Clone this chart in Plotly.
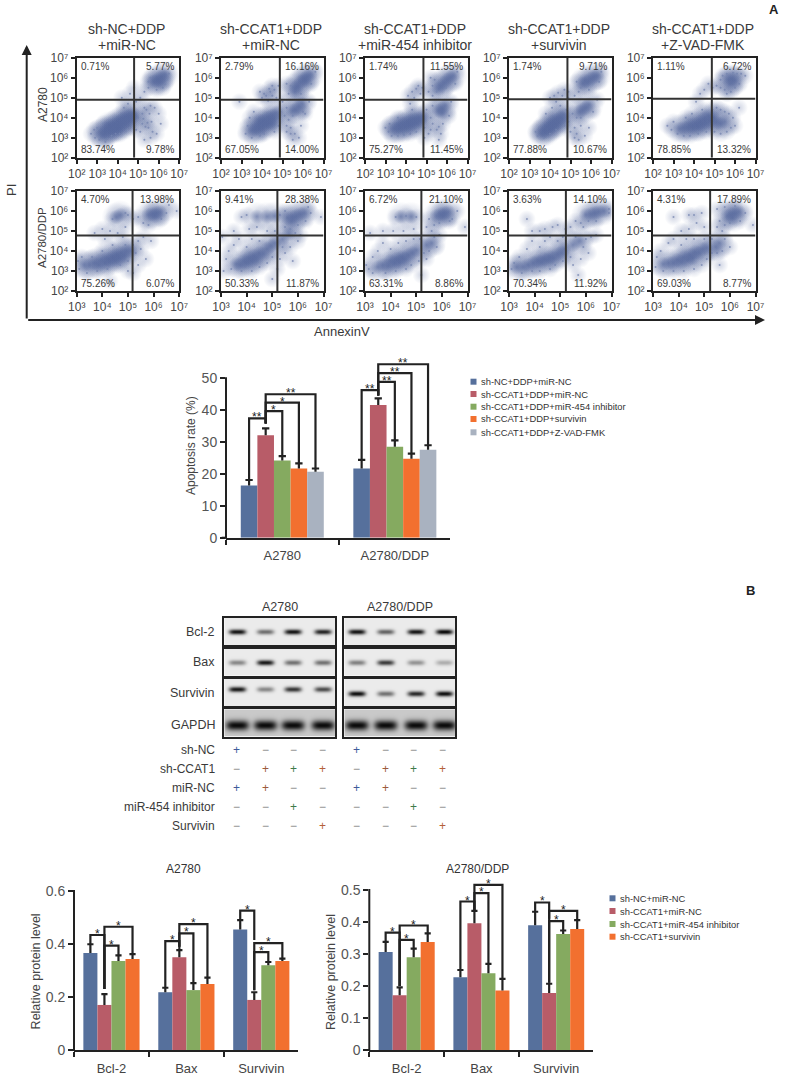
import numpy as np
import plotly.graph_objects as go

W, H = 788, 1079
FONT = "Liberation Sans, Arial, sans-serif"
TXT = "#3a3a3a"
SUP = {2: "²", 3: "³", 4: "⁴", 5: "⁵", 6: "⁶", 7: "⁷"}

# ---------- flow cytometry: points, log10(AnnexinV), log10(PI) ----------
r1p1_core = [(3.2,3.25),(3.4,3.3),(3.5,3.45),(3.6,3.35),(3.7,3.5),(3.8,3.45),(3.85,3.65),(3.95,3.55),(4.0,3.75),(4.1,3.6),(4.15,3.85),(4.25,3.7),(4.3,3.95),(4.4,3.8),(4.45,4.05),(4.55,3.85),(4.6,4.1),(4.7,4.0),(4.75,4.2),(3.3,3.15),(3.6,3.6),(4.0,3.45),(5.9,5.85),(6.0,5.95),(6.15,6.05),(6.3,6.15),(5.75,5.8),(6.05,5.8)]
r1p1_dots = [(2.7,3.2),(2.9,3.0),(3.0,3.5),(3.1,2.9),(2.85,3.4),(3.3,3.7),(3.5,2.95),(3.7,3.1),(3.9,3.2),(4.1,3.2),(4.4,3.35),(4.6,3.5),(4.9,3.4),(5.1,3.3),(5.2,3.7),(5.35,3.55),(5.5,3.5),(5.65,3.8),(5.7,3.3),(5.0,4.0),(5.2,4.2),(5.4,4.4),(5.6,4.6),(5.8,4.5),(6.0,4.2),(6.1,3.7),(5.9,3.2),(4.3,4.5),(4.5,4.7),(4.2,5.0),(4.6,5.2),(4.8,5.5),(4.9,4.8),(5.1,5.0),(5.3,5.3),(5.5,5.5),(5.6,6.0),(5.5,5.8),(6.3,5.7),(6.5,6.2),(6.4,5.9),(5.9,5.4),(6.2,5.5),(3.4,2.8),(5.3,2.9),(5.6,3.0),(5.45,3.75),(5.25,3.95),(5.55,4.2),(5.3,4.5)]
r1p2_core = [(3.5,3.35),(3.65,3.4),(3.75,3.55),(3.85,3.45),(3.95,3.7),(4.05,3.6),(4.1,3.85),(4.2,3.7),(4.3,4.0),(4.35,3.8),(4.5,4.1),(4.6,3.95),(4.7,4.25),(3.9,3.85),(4.45,3.7),(5.6,5.3),(5.65,5.5),(5.75,5.6),(5.9,5.8),(6.05,5.95),(6.2,6.05),(6.35,6.15),(6.1,5.85),(5.5,4.35),(5.65,4.4),(5.8,4.55),(5.95,4.7)]
r1p2_dots = [(4.0,5.0),(4.2,5.1),(4.4,5.3),(4.6,5.4),(4.7,5.0),(4.5,5.6),(4.3,4.85),(3.9,5.3),(4.8,5.6),(5.0,4.8),(5.2,4.5),(5.1,4.1),(5.3,3.9),(5.4,3.5),(5.6,3.2),(5.8,3.0),(5.5,2.9),(5.2,3.3),(5.9,3.6),(6.1,4.2),(6.3,4.8),(5.3,5.2),(5.4,5.6),(5.2,5.7),(6.4,5.7),(6.6,6.3),(5.9,5.2),(3.2,3.2),(3.3,3.6),(3.5,3.0),(3.9,3.1),(4.1,3.2),(4.6,3.3),(4.8,3.6),(3.4,4.0),(2.9,4.8),(3.6,4.3),(4.9,4.3),(5.5,4.1),(6.0,4.3),(4.1,5.2),(4.5,5.1),(4.35,5.45),(5.4,3.2),(5.2,3.6)]
r1p3_core = [(3.4,3.45),(3.55,3.45),(3.65,3.6),(3.75,3.5),(3.85,3.7),(3.95,3.55),(4.05,3.75),(4.15,3.6),(4.2,3.85),(4.3,3.7),(4.4,3.9),(4.5,3.75),(4.6,3.95),(4.7,3.85),(4.8,4.05),(5.6,5.45),(5.7,5.6),(5.85,5.75),(6.0,5.9),(6.15,6.0),(6.3,6.1),(5.6,4.35),(5.75,4.45),(5.9,4.6),(5.75,4.25)]
r1p3_dots = [(3.0,3.5),(3.15,3.3),(3.3,3.1),(3.2,3.7),(3.6,3.1),(3.9,3.15),(4.2,3.2),(4.5,3.3),(4.9,3.5),(5.1,3.2),(5.3,3.7),(5.5,3.4),(5.6,3.55),(5.7,3.2),(5.8,3.7),(5.2,4.0),(5.0,4.4),(5.3,4.6),(6.1,4.1),(6.2,4.8),(4.1,5.1),(4.3,5.3),(4.5,5.45),(4.7,5.2),(4.4,5.0),(4.6,5.6),(4.2,4.7),(4.8,5.5),(5.1,5.3),(5.3,5.6),(5.2,6.0),(5.4,5.9),(5.5,5.3),(5.95,5.5),(6.4,5.7),(6.5,6.3),(5.3,5.1),(5.6,2.9),(5.2,3.4),(4.9,3.0),(4.3,4.4),(3.6,4.0)]
r1p4_core = [(3.6,3.2),(3.7,3.35),(3.8,3.3),(3.85,3.5),(3.95,3.45),(4.0,3.65),(4.1,3.55),(4.15,3.8),(4.25,3.65),(4.3,3.9),(4.4,3.75),(4.5,4.0),(4.6,3.95),(4.65,4.15),(5.6,5.7),(5.7,5.85),(5.85,5.8),(6.0,5.95),(6.15,6.05),(6.3,6.1),(5.45,4.3),(5.6,4.4),(5.75,4.5),(5.9,4.65)]
r1p4_dots = [(3.4,3.1),(3.5,3.5),(3.3,3.3),(3.7,3.0),(4.0,3.2),(4.3,3.4),(4.7,3.6),(4.9,3.8),(5.0,3.3),(5.2,3.5),(5.3,3.2),(5.5,3.6),(5.4,2.9),(5.7,3.1),(5.9,3.5),(5.1,4.2),(5.3,4.0),(5.5,4.0),(6.1,4.3),(6.3,4.9),(4.0,5.0),(4.2,5.1),(4.4,5.25),(4.6,5.1),(4.3,4.8),(4.7,5.4),(4.1,4.5),(4.5,4.6),(4.9,5.3),(5.2,5.1),(5.4,5.3),(5.5,5.5),(5.3,5.8),(5.9,5.4),(6.4,5.8),(6.5,6.3),(5.2,3.0),(3.8,4.2),(4.8,4.4),(4.9,5.0)]
r1p5_core = [(3.3,3.45),(3.5,3.5),(3.7,3.5),(3.85,3.65),(3.95,3.5),(4.1,3.7),(4.2,3.55),(4.3,3.8),(4.4,3.65),(4.5,3.95),(4.6,3.75),(4.7,4.1),(4.8,3.85),(4.95,4.0),(5.1,3.75),(5.3,3.7),(5.5,3.8),(5.7,5.9),(5.85,5.95),(6.0,5.85),(5.75,5.7)]
r1p5_dots = [(2.7,3.6),(2.9,3.4),(3.0,3.8),(3.2,3.2),(3.5,3.1),(3.8,3.1),(4.2,3.2),(4.6,3.3),(5.0,3.3),(5.3,3.2),(5.6,3.3),(5.8,3.5),(5.9,4.0),(5.7,4.2),(5.5,4.3),(5.3,4.4),(5.1,4.5),(4.9,4.4),(4.4,4.4),(3.9,4.2),(3.6,4.0),(6.0,3.6),(6.2,4.5),(4.3,5.2),(4.5,5.4),(4.7,5.7),(4.9,5.5),(5.1,5.6),(5.3,5.5),(5.4,6.1),(5.5,5.4),(5.6,5.2),(5.8,5.3),(6.0,5.5),(6.2,5.7),(6.3,6.2),(6.5,6.1),(6.1,6.2),(5.9,6.25),(5.6,6.2),(5.3,5.9),(4.1,4.8)]
r2p1_core = [(3.3,3.3),(3.5,3.3),(3.7,3.4),(3.85,3.3),(3.95,3.55),(4.1,3.4),(4.2,3.6),(4.3,3.5),(4.4,3.7),(4.5,3.55),(4.55,3.8),(4.65,3.65),(4.75,3.9),(4.85,3.75),(4.95,4.0),(5.1,4.0),(5.8,5.8),(5.95,5.85),(6.1,5.9),(6.25,5.95),(6.05,5.75),(4.7,5.8),(4.55,5.7)]
r2p1_dots = [(3.05,3.5),(3.1,3.1),(3.2,3.7),(3.4,2.9),(3.6,3.7),(3.8,3.0),(4.0,4.0),(4.2,3.1),(4.4,4.3),(4.7,3.3),(4.9,4.3),(5.0,3.5),(5.2,4.3),(5.3,3.9),(5.4,4.5),(5.5,4.1),(5.6,4.7),(5.7,3.6),(5.9,4.5),(5.4,3.3),(3.7,4.9),(4.0,5.1),(4.3,5.0),(4.6,4.9),(4.9,5.2),(5.0,5.8),(5.2,5.6),(5.4,5.7),(5.6,5.4),(5.8,5.3),(6.3,5.6),(6.5,5.9),(6.9,6.0),(6.6,6.3),(4.4,5.6),(4.9,5.9),(4.1,4.6),(4.8,4.7),(5.0,3.0),(5.2,2.9),(4.3,2.5)]
r2p2_core = [(3.6,3.35),(3.75,3.3),(3.9,3.5),(4.0,3.4),(4.1,3.65),(4.2,3.5),(4.3,3.75),(4.4,3.6),(4.5,3.9),(4.65,3.85),(4.8,4.1),(4.95,4.25),(5.1,4.4),(5.4,4.6),(5.65,4.85),(5.6,5.65),(5.8,5.7),(5.95,5.75),(6.1,5.85),(6.25,5.9),(5.75,5.5),(4.4,5.72),(4.8,5.72),(5.1,5.75)]
r2p2_dots = [(3.1,3.0),(3.2,3.6),(3.3,4.0),(3.4,3.1),(3.5,4.3),(3.7,4.6),(3.8,3.0),(4.0,4.2),(4.2,3.0),(4.2,4.6),(4.5,3.2),(4.5,4.5),(4.8,3.4),(4.8,5.0),(5.0,3.7),(5.1,5.0),(5.3,3.6),(5.4,4.2),(5.5,3.9),(5.7,4.2),(5.8,3.5),(6.0,4.5),(5.9,4.9),(5.5,5.2),(5.7,5.1),(6.0,5.3),(6.3,5.5),(6.5,5.9),(6.9,5.7),(3.8,5.7),(4.0,5.8),(4.1,5.1),(4.4,5.2),(3.5,5.0),(3.05,4.7),(5.3,5.8),(5.5,6.0),(6.4,6.2),(6.1,4.8),(5.2,3.1),(5.0,2.6)]
r2p3_core = [(3.5,3.2),(3.7,3.3),(3.9,3.25),(4.0,3.5),(4.15,3.4),(4.25,3.6),(4.35,3.45),(4.45,3.7),(4.55,3.6),(4.7,3.8),(4.85,3.9),(5.0,4.05),(5.4,4.3),(5.6,4.4),(5.8,5.75),(5.95,5.85),(6.1,5.9),(6.25,5.95),(6.05,5.75),(4.4,5.72),(4.8,5.72)]
r2p3_dots = [(3.05,3.3),(3.15,3.1),(3.3,3.7),(3.3,2.9),(3.5,4.0),(3.7,4.4),(3.8,2.9),(4.0,4.1),(4.2,3.0),(4.3,4.4),(4.6,3.1),(4.6,4.5),(4.8,3.3),(4.9,4.6),(5.1,3.5),(5.15,4.6),(5.3,3.9),(5.4,3.6),(5.5,4.0),(5.7,4.7),(5.8,4.2),(5.9,4.8),(5.6,5.0),(5.4,5.2),(5.5,5.6),(5.7,5.3),(5.9,5.4),(6.4,5.6),(6.6,6.0),(4.2,5.7),(4.6,5.75),(5.0,5.7),(4.1,5.0),(4.5,5.0),(3.7,5.0),(4.9,5.1),(6.3,5.5),(3.2,4.9),(5.2,2.8),(6.9,5.2)]
r2p4_core = [(3.3,3.2),(3.55,3.2),(3.75,3.3),(3.95,3.4),(4.1,3.5),(4.25,3.45),(4.35,3.6),(4.5,3.55),(4.6,3.7),(4.75,3.65),(4.9,3.85),(5.05,3.9),(5.15,4.1),(5.5,4.3),(5.75,4.5),(6.0,5.8),(6.2,5.85),(6.35,5.9),(6.5,5.95),(6.7,6.0)]
r2p4_dots = [(3.1,3.1),(3.2,3.4),(3.4,3.7),(3.5,2.9),(3.7,4.1),(3.9,4.5),(3.9,3.0),(4.2,4.2),(4.2,3.0),(4.4,4.5),(4.6,3.1),(4.6,4.7),(4.8,3.3),(4.9,4.5),(5.1,3.5),(5.1,4.7),(5.4,3.7),(5.5,3.3),(5.6,4.7),(5.9,4.2),(6.0,4.6),(6.2,4.7),(6.4,4.8),(6.1,3.9),(5.8,3.6),(5.8,5.4),(5.9,5.2),(6.1,5.5),(6.4,5.5),(5.6,5.5),(5.4,5.2),(5.2,5.1),(4.9,5.3),(4.7,5.2),(4.4,5.1),(4.2,5.0),(3.9,5.0),(6.9,5.9),(6.9,6.1),(3.7,5.6),(5.7,2.8)]
r2p5_core = [(3.4,3.35),(3.6,3.4),(3.8,3.4),(3.95,3.55),(4.1,3.45),(4.2,3.7),(4.35,3.55),(4.45,3.8),(4.55,3.65),(4.65,3.95),(4.8,3.9),(4.95,4.1),(5.1,4.15),(5.45,4.2),(5.6,4.4),(5.9,5.75),(6.05,5.85),(6.2,5.9),(6.35,5.95),(6.1,5.65)]
r2p5_dots = [(3.1,3.2),(3.15,3.7),(3.3,4.0),(3.4,3.0),(3.6,4.4),(3.8,4.6),(3.8,3.0),(4.1,4.3),(4.2,3.0),(4.3,4.6),(4.6,3.1),(4.6,4.6),(4.9,3.3),(5.0,4.6),(5.1,3.6),(5.3,3.9),(5.3,4.6),(5.5,3.9),(5.7,4.0),(5.8,4.6),(6.0,4.2),(5.6,3.3),(5.7,5.0),(5.5,5.2),(5.6,5.5),(5.8,5.3),(6.0,5.4),(6.4,5.5),(6.6,5.9),(5.5,6.1),(5.8,6.2),(6.2,6.25),(4.4,5.8),(4.6,5.8),(4.9,5.9),(4.7,5.4),(5.0,5.2),(4.4,5.1),(4.1,5.0),(3.8,5.7),(6.9,5.3)]

row_names = ["A2780", "A2780/DDP"]
flow_titles = [["sh-NC+DDP", "+miR-NC"], ["sh-CCAT1+DDP", "+miR-NC"], ["sh-CCAT1+DDP", "+miR-454 inhibitor"],
               ["sh-CCAT1+DDP", "+survivin"], ["sh-CCAT1+DDP", "+Z-VAD-FMK"]]
flow_pcts = [
    [["0.71%", "5.77%", "83.74%", "9.78%"], ["2.79%", "16.16%", "67.05%", "14.00%"], ["1.74%", "11.55%", "75.27%", "11.45%"],
     ["1.74%", "9.71%", "77.88%", "10.67%"], ["1.11%", "6.72%", "78.85%", "13.32%"]],
    [["4.70%", "13.98%", "75.26%", "6.07%"], ["9.41%", "28.38%", "50.33%", "11.87%"], ["6.72%", "21.10%", "63.31%", "8.86%"],
     ["3.63%", "14.10%", "70.34%", "11.92%"], ["4.31%", "17.89%", "69.03%", "8.77%"]],
]
flow_core = [[r1p1_core, r1p2_core, r1p3_core, r1p4_core, r1p5_core], [r2p1_core, r2p2_core, r2p3_core, r2p4_core, r2p5_core]]
flow_dots = [[r1p1_dots, r1p2_dots, r1p3_dots, r1p4_dots, r1p5_dots], [r2p1_dots, r2p2_dots, r2p3_dots, r2p4_dots, r2p5_dots]]
gate_x = [[4.8, 4.87, 4.85, 4.85, 4.87], [5.18, 5.2, 5.2, 5.22, 5.23]]
gate_y = [[4.9, 4.9, 4.9, 4.92, 4.95], [4.77, 4.77, 4.77, 4.78, 4.78]]

# ---------- bar charts ----------
apop_groups = ["A2780", "A2780/DDP"]
apop_names = ["sh-NC+DDP+miR-NC", "sh-CCAT1+DDP+miR-NC", "sh-CCAT1+DDP+miR-454 inhibitor", "sh-CCAT1+DDP+survivin", "sh-CCAT1+DDP+Z-VAD-FMK"]
apop_vals = [[16.4, 21.7], [32.1, 41.6], [24.2, 28.5], [21.7, 24.8], [20.7, 27.6]]
apop_errs = [[1.7, 2.7], [2.2, 2.1], [1.4, 2.0], [1.6, 1.6], [1.0, 1.4]]
apop_brackets = [(0, 0, 1, 37.4, 18.1, 35.8, "**"), (0, 1, 2, 39.7, 35.8, 25.6, "*"), (0, 1, 3, 42.4, 35.8, 23.3, "*"), (0, 1, 4, 45.0, 35.8, 21.7, "**"),
                 (1, 0, 1, 46.3, 24.4, 44.6, "**"), (1, 1, 2, 48.9, 44.6, 30.5, "**"), (1, 1, 3, 51.6, 44.6, 26.4, "**"), (1, 1, 4, 54.4, 44.6, 29.0, "**")]

prot_groups = ["Bcl-2", "Bax", "Survivin"]
prot_names = ["sh-NC+miR-NC", "sh-CCAT1+miR-NC", "sh-CCAT1+miR-454 inhibitor", "sh-CCAT1+survivin"]
a2780_vals = [[.366, .218, .455], [.170, .350, .189], [.336, .226, .320], [.343, .249, .336]]
a2780_errs = [[.033, .017, .035], [.041, .027, .029], [.021, .026, .012], [.019, .024, .009]]
a2780_brackets = [(0, 0, 1, .434, .399, .23, "*"), (0, 1, 2, .394, .23, .357, "*"), (0, 1, 3, .465, .23, .362, "*"),
                  (1, 0, 1, .411, .235, .377, "*"), (1, 1, 2, .44, .39, .252, "*"), (1, 1, 3, .475, .39, .273, "*"),
                  (2, 0, 1, .526, .49, .415, "*"), (2, 1, 2, .369, .225, .332, "*"), (2, 1, 3, .403, .225, .345, "*")]
ddp_vals = [[.306, .227, .390], [.171, .396, .178], [.290, .240, .3625], [.3375, .186, .378]]
ddp_errs = [[.032, .023, .042], [.025, .039, .029], [.027, .029, .011], [.027, .036, .028]]
ddp_brackets = [(0, 0, 1, .367, .3375, .2, "*"), (0, 1, 2, .344, .2, .317, "*"), (0, 1, 3, .389, .2, .364, "*"),
                (1, 0, 1, .464, .25, .435, "*"), (1, 1, 2, .49, .435, .269, "*"), (1, 1, 3, .516, .435, .222, "*"),
                (2, 0, 1, .461, .432, .41, "*"), (2, 1, 2, .403, .21, .373, "*"), (2, 1, 3, .435, .21, .406, "*")]
BAR_COLORS = ["#56709c", "#b85c68", "#85aa60", "#f2702f", "#a9b2c0"]

# ---------- western blots: band darkness per lane ----------
blot_names = ["Bcl-2", "Bax", "Survivin", "GAPDH"]
blot_left = [[.95, .55, .95, .88], [.45, .95, .55, .55], [.95, .45, .82, .72], [1, 1, 1, 1]]
blot_right = [[.95, .6, .95, 1], [.48, .8, .4, .28], [1, .55, .88, 1], [1, 1, 1, 1]]
lane_names = ["sh-NC", "sh-CCAT1", "miR-NC", "miR-454 inhibitor", "Survivin"]
lane_signs = [["+", "−", "−", "−"], ["−", "+", "+", "+"], ["+", "+", "−", "−"], ["−", "−", "+", "−"], ["−", "−", "−", "+"]]
LANE_COLORS = ["#3d5a9a", "#9c5a3c", "#3f7a4a", "#b5603a"]

fig = go.Figure()
axis_no = 0
anns, shapes = [], []


def px_x(v):
    return v / W


def px_y(v):
    return 1 - v / H


def new_axes(x0, x1, ytop, ybot, xa, ya):
    global axis_no
    axis_no += 1
    s = "" if axis_no == 1 else str(axis_no)
    xa = dict(xa, domain=[px_x(x0), px_x(x1)], anchor="y" + s, automargin=False)
    ya = dict(ya, domain=[px_y(ybot), px_y(ytop)], anchor="x" + s, automargin=False)
    fig.update_layout(**{"xaxis" + s: xa, "yaxis" + s: ya})
    return "x" + s, "y" + s


def text(x, y, t, size=12, xanchor="center", angle=0, color=TXT, family=FONT, **kw):
    anns.append(dict(xref="paper", yref="paper", x=px_x(x), y=px_y(y), text=t, showarrow=False, xanchor=xanchor,
                     yanchor="middle", textangle=angle, font=dict(family=family, size=size, color=color),
                     borderpad=0, **kw))


def pline(x0, y0, x1, y1, width=2, color="#222"):
    shapes.append(dict(type="line", xref="paper", yref="paper", x0=px_x(x0), x1=px_x(x1), y0=px_y(y0), y1=px_y(y1),
                       line=dict(width=width, color=color)))


def soft(xs, ys, xr, yr, size, alpha):
    fig.add_trace(go.Scatter(x=xs, y=ys, mode="markers", xaxis=xr, yaxis=yr, showlegend=False, hoverinfo="skip",
                             marker=dict(size=size, color="rgba(88,106,158,0)", line=dict(width=0),
                                         gradient=dict(type="radial", color=f"rgba(88,106,158,{alpha})"))))


# ---- panel A flow plots
col_left = [76.7, 221, 365, 509, 653]
row_top = [57.7, 191]
PW, PH = 102.5, 100
for r in range(2):
    xmin = 2 if r == 0 else 3
    for c in range(5):
        x0, y0 = col_left[c], row_top[r]
        axis = dict(showgrid=False, zeroline=False, showline=True, mirror=True, linecolor="#222", linewidth=2,
                    ticks="outside", ticklen=4, tickwidth=2, tickcolor="#222", tickangle=0,
                    tickfont=dict(family=FONT, size=12, color="#444"))
        xa = dict(axis, range=[xmin, 7], tickvals=list(range(xmin, 8)), ticktext=[f"10{SUP[k]}" for k in range(xmin, 8)])
        ya = dict(axis, range=[2, 7], tickvals=list(range(2, 8)), ticktext=[f"10{SUP[k]}" for k in range(2, 8)])
        xr, yr = new_axes(x0, x0 + PW, y0, y0 + PH, xa, ya)
        dots = flow_dots[r][c]
        core = flow_core[r][c]
        dx, dy = [p[0] for p in dots], [p[1] for p in dots]
        cx, cy = [p[0] for p in core], [p[1] for p in core]
        soft(dx, dy, xr, yr, 18, .28)
        soft(cx, cy, xr, yr, 30, .32)
        soft(cx, cy, xr, yr, 15, .6)
        fig.add_trace(go.Scatter(x=dx, y=dy, mode="markers", xaxis=xr, yaxis=yr, showlegend=False, hoverinfo="skip",
                                 marker=dict(size=2, color="#7585b0", opacity=.75, line=dict(width=0))))
        shapes.append(dict(type="line", xref=xr, yref=yr, x0=gate_x[r][c], x1=gate_x[r][c], y0=2, y1=7, line=dict(width=2, color="#333")))
        shapes.append(dict(type="line", xref=xr, yref=yr, x0=xmin, x1=7, y0=gate_y[r][c], y1=gate_y[r][c], line=dict(width=2, color="#333")))
        pc = flow_pcts[r][c]
        text(x0 + 3, y0 + 9, pc[0], 10, "left")
        text(x0 + PW - 4, y0 + 9, pc[1], 10, "right")
        text(x0 + 3, y0 + PH - 8, pc[2], 10, "left")
        text(x0 + PW - 4, y0 + PH - 8, pc[3], 10, "right")
        if r == 0:
            text(x0 + PW / 2 - 1, 29.5, flow_titles[c][0], 14)
            text(x0 + PW / 2 - 1, 45, flow_titles[c][1], 14)

text(43, 105, row_names[0], 12, angle=-90)
text(42, 238, row_names[1], 11.5, angle=-90)
text(12, 190, "PI", 13, angle=-90)
text(342, 331, "AnnexinV", 13)
text(774, 10, "<b>A</b>", 13, color="#222")
text(750, 590, "<b>B</b>", 13, color="#222")
for ax_, ay_, hx, hy in [(26.7, 320, 26.7, 45), (26.7, 320, 765, 320)]:
    anns.append(dict(xref="paper", yref="paper", x=px_x(hx), y=px_y(hy), ax=ax_ - hx, ay=ay_ - hy, text="", showarrow=True,
                     arrowhead=2, arrowsize=1, arrowwidth=2, arrowcolor="#222"))


def bar_chart(groups, names, vals, errs, brackets, x0, x1, ybot, ytop_val_px, vmax, vtop, ticks, tickfmt, spine_x, axis_left, w):
    ng = len(groups)
    scale = (ybot - ytop_val_px) / vmax
    ytop = ybot - vtop * scale
    xa = dict(type="category", categoryorder="array", categoryarray=groups, range=[-0.5, ng - 0.51], tickson="boundaries",
              showgrid=False, zeroline=False, showline=True, linecolor="#222", linewidth=2, ticks="outside", ticklen=5,
              tickwidth=2, tickcolor="#222", ticklabelstandoff=5, tickfont=dict(family=FONT, size=13, color="#444"))
    ya = dict(range=[0, vtop], tickvals=ticks, ticktext=[tickfmt(t) for t in ticks], showgrid=False, zeroline=False, showline=False,
              ticks="outside", ticklen=5, tickwidth=2, tickcolor="#222", tickfont=dict(family=FONT, size=14, color="#555"))
    xr, yr = new_axes(x0, x1, ytop, ybot, xa, ya)
    n = len(names)
    for i in range(n):
        fig.add_trace(go.Bar(x=groups, y=vals[i], name=names[i], xaxis=xr, yaxis=yr, marker=dict(color=BAR_COLORS[i], line=dict(width=0)),
                             width=w, offset=(i - n / 2) * w, showlegend=False))
        for g in range(ng):
            xc = g + (i - (n - 1) / 2) * w
            top = vals[i][g] + errs[i][g]
            cap = w * .22
            shapes.append(dict(type="path", xref=xr, yref=yr, path=f"M {xc} {vals[i][g]} L {xc} {top} M {xc - cap} {top} L {xc + cap} {top}",
                               line=dict(width=2.2, color="#222")))
    for g, i, j, top, li, lj, star in brackets:
        xi = g + (i - (n - 1) / 2) * w
        xj = g + (j - (n - 1) / 2) * w
        shapes.append(dict(type="path", xref=xr, yref=yr, path=f"M {xi} {li} L {xi} {top} L {xj} {top} L {xj} {lj}",
                           line=dict(width=2.2, color="#222")))
        anns.append(dict(xref=xr, yref=yr, x=(xi + xj) / 2, y=top, text=star, showarrow=False, yanchor="middle", yshift=1,
                         font=dict(family=FONT, size=12, color="#222")))
    pline(spine_x, ytop_val_px - 1, spine_x, ybot + 1)
    pline(axis_left, ybot, spine_x, ybot)


bar_chart(apop_groups, apop_names, apop_vals, apop_errs, apop_brackets, 226, 450, 537.7, 378.3, 50, 56,
          [0, 10, 20, 30, 40, 50], lambda t: str(t), 226, 221.7, .1475)
text(191, 446, "Apoptosis rate (%)", 12, angle=-90, color="#444")
for i, nm in enumerate(apop_names):
    yc = [381.7, 394, 406.7, 419, 432.3][i]
    shapes.append(dict(type="rect", xref="paper", yref="paper", x0=px_x(470.5), x1=px_x(476.5), y0=px_y(yc - 3), y1=px_y(yc + 3),
                       fillcolor=BAR_COLORS[i], line=dict(width=0)))
    text(480, yc, nm, 9.4, "left", color="#333")

bar_chart(prot_groups, prot_names, a2780_vals, a2780_errs, a2780_brackets, 74, 298, 1050, 891, .6, .6,
          [0, .2, .4, .6], lambda t: "0" if t == 0 else f"{t:.1f}", 74, 69.3, .1875)
text(183, 869, "A2780", 12, color="#333")
text(35.7, 971.7, "Relative protein level", 12.5, angle=-90, color="#444")

bar_chart(prot_groups, prot_names, ddp_vals, ddp_errs, ddp_brackets, 369.3, 592.8, 1050, 890, .5, .535,
          [0, .1, .2, .3, .4, .5], lambda t: "0" if t == 0 else f"{t:.1f}", 369.3, 365, .1875)
text(477.7, 869, "A2780/DDP", 12, color="#333")
text(331, 972, "Relative protein level", 12.5, angle=-90, color="#444")
for i, nm in enumerate(prot_names):
    yc = [898.3, 911, 924, 936.7][i]
    shapes.append(dict(type="rect", xref="paper", yref="paper", x0=px_x(609.5), x1=px_x(615.5), y0=px_y(yc - 3), y1=px_y(yc + 3),
                       fillcolor=BAR_COLORS[i], line=dict(width=0)))
    text(619, yc, nm, 9.4, "left", color="#333")

# ---- panel B blots
blot_rows = [(618, 645), (648.7, 675.7), (678.7, 706.3), (709.3, 736.7)]
blot_cols = [(224.3, 335, [12.7, 40.7, 68.3, 98.3], blot_left, [.5, .5, .37, .57]),
             (344.3, 455.3, [12.3, 41, 71.3, 99.7], blot_right, [.5, .5, .53, .57])]
label_y = [632, 662, 693, 724.7]
for xl, xr_, lanes, data, yfrac in blot_cols:
    for b, (yt, yb) in enumerate(blot_rows):
        pw, ph = xr_ - xl, yb - yt
        xs = np.arange(0, pw, 1.0)
        ys = np.arange(0, ph, 1.0)
        XX, YY = np.meshgrid(xs, ys)
        gapdh = blot_names[b] == "GAPDH"
        bg = .22 if gapdh else .08
        z = np.full(XX.shape, bg)
        for lane_x, dark in zip(lanes, data[b]):
            hw, ht = (11.5, 5) if gapdh else (8.5, 2.6)
            z = z + dark * (1 - bg) * np.exp(-((XX - lane_x) / hw) ** 4) * np.exp(-((YY - yfrac[b] * ph) / ht) ** 2)
        base = dict(showgrid=False, zeroline=False, showline=True, mirror=True, linecolor="#222", linewidth=2, ticks="", showticklabels=False)
        xa_, ya_ = new_axes(xl, xr_, yt, yb, dict(base, range=[0, pw]), dict(base, range=[ph, 0]))
        fig.add_trace(go.Heatmap(x=xs, y=ys, z=z, zmin=0, zmax=1, zsmooth="best", showscale=False, xaxis=xa_, yaxis=ya_, hoverinfo="skip",
                                 colorscale=[[0, "#ffffff"], [1, "#0a0a0a"]]))
for nm, y in zip(blot_names, label_y):
    text(215.7, y, nm, 12.5, "right")
text(279.5, 607, "A2780", 12.5)
text(400, 607, "A2780/DDP", 12.5)

sign_x = [236, 265, 293.3, 322.3, 356, 385, 413.3, 442.3]
sign_y = [750.3, 769.3, 788.3, 807, 826]
for row, (nm, y) in enumerate(zip(lane_names, sign_y)):
    text(215.7, y, nm, 12, "right")
    for k, sx in enumerate(sign_x):
        s = lane_signs[row][k % 4]
        text(sx, y, s, 12, color=LANE_COLORS[k % 4] if s == "+" else "#888")

fig.update_layout(width=W, height=H, autosize=False, margin=dict(l=0, r=0, t=0, b=0), paper_bgcolor="white", plot_bgcolor="rgba(0,0,0,0)",
                  barmode="group", annotations=anns, shapes=shapes, showlegend=False, font=dict(family=FONT))
fig.write_html("out.html", post_script="document.body.style.margin='0';", config={"displayModeBar": False})
